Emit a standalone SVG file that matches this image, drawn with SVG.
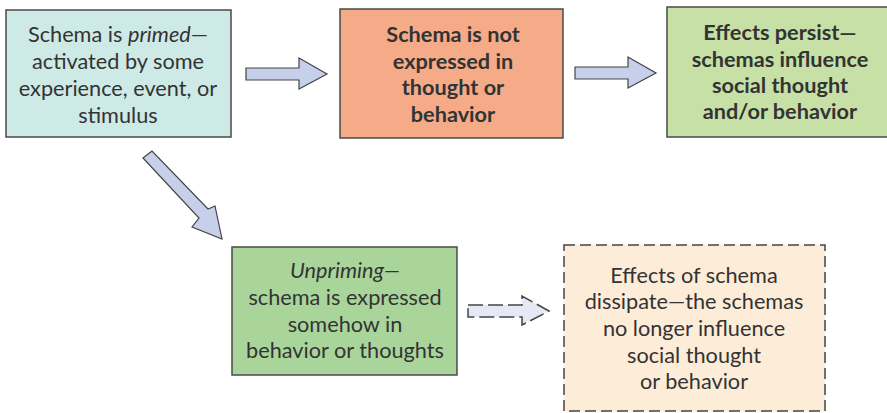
<svg xmlns="http://www.w3.org/2000/svg" width="887" height="413" viewBox="0 0 887 413">
<style>
.box{stroke:#4a4a4a;stroke-width:1.5}
.t{font-family:Lato,"Open Sans",sans-serif;font-size:21.7px;fill:#333;text-anchor:middle}
.b{font-weight:bold}
.arr{fill:#c6d0ea;stroke:#444;stroke-width:1.2;stroke-linejoin:miter}
.darr{fill:#e6e8f6;stroke:#444;stroke-width:1.5;stroke-dasharray:15 5}
</style>
<rect width="887" height="413" fill="#fff"/>
<g id="n1">
<rect class="box" x="6" y="10" width="225" height="127" fill="#cdeae6"/>
<text class="t" x="118" y="42">Schema is <tspan font-style="italic">primed</tspan>—</text>
<text class="t" x="118" y="69">activated by some</text>
<text class="t" x="118" y="96">experience, event, or</text>
<text class="t" x="118" y="123">stimulus</text>
</g>
<g id="n2">
<rect class="box" x="340" y="9" width="223" height="129" fill="#f5ab88"/>
<text class="t b" x="453" y="42">Schema is not</text>
<text class="t b" x="453" y="69">expressed in</text>
<text class="t b" x="453" y="95">thought or</text>
<text class="t b" x="453" y="122">behavior</text>
</g>
<g id="n3">
<rect class="box" x="667" y="7" width="222" height="130" fill="#c6e0a6"/>
<text class="t b" x="780" y="40">Effects persist—</text>
<text class="t b" x="780" y="67">schemas influence</text>
<text class="t b" x="780" y="93">social thought</text>
<text class="t b" x="780" y="119">and/or behavior</text>
</g>
<g id="n4">
<rect class="box" x="232" y="247" width="225" height="128" fill="#a9d59b"/>
<text class="t" x="345" y="278" font-style="italic">Unpriming—</text>
<text class="t" x="345" y="305">schema is expressed</text>
<text class="t" x="345" y="332">somehow in</text>
<text class="t" x="345" y="358">behavior or thoughts</text>
</g>
<g id="n5">
<rect x="564" y="245" width="261" height="166" fill="#fdecd8" stroke="#444" stroke-width="1.5" stroke-dasharray="11 5"/>
<text class="t" x="694" y="283">Effects of schema</text>
<text class="t" x="694" y="309">dissipate—the schemas</text>
<text class="t" x="694" y="336">no longer influence</text>
<text class="t" x="694" y="363">social thought</text>
<text class="t" x="694" y="389">or behavior</text>
</g>
<g id="connectors">
<polygon class="arr" points="246,68 299,68 299,58 327,74 299,89 299,80 246,80"/>
<polygon class="arr" points="575,67 628,67 628,57 656,73 628,88 628,79 575,79"/>
<polygon class="arr" points="143,158 152,151 208,209 215,206 222,239 192,227 199,218"/>
<polygon class="darr" points="468,305 522,305 522,296 549,311 522,325 522,317 468,317"/>
</g>
</svg>
